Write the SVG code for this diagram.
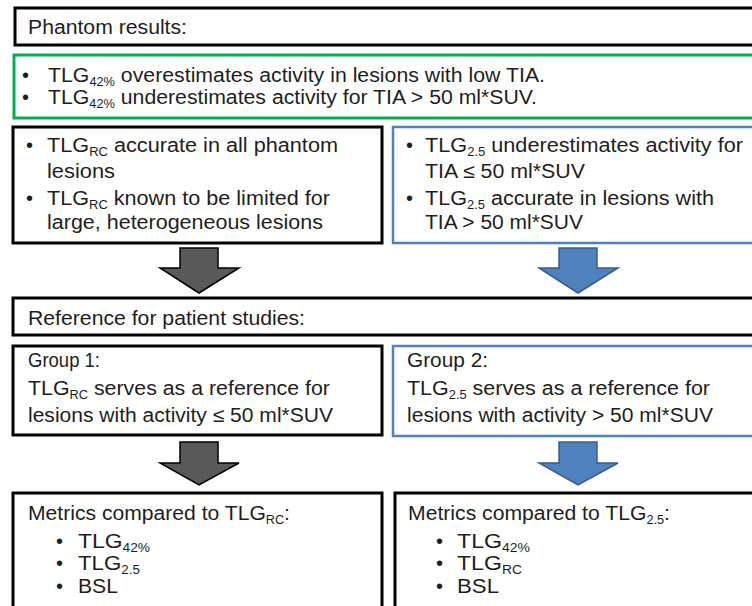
<svg xmlns="http://www.w3.org/2000/svg" width="752" height="606" viewBox="0 0 752 606">
<style>
text{font-family:"Liberation Sans",Arial,sans-serif;font-size:20px;fill:#1e1e1e}
.sub{font-size:12px}
.bk{fill:#fff;stroke:#000;stroke-width:3}
.gr{fill:#fff;stroke:#00B050;stroke-width:3}
.bl{fill:#fff;stroke:#4F81BD;stroke-width:2.5}
.ag{fill:#595959;stroke:#000;stroke-width:1.5;stroke-linejoin:miter}
.ab{fill:#4F81BD;stroke:#385D8A;stroke-width:1.5;stroke-linejoin:miter}
</style>
<rect width="752" height="606" fill="#fff"/>
<g id="phantom-title">
<rect class="bk" x="15" y="8" width="760" height="37"/>
<text x="28" y="34" textLength="159" lengthAdjust="spacingAndGlyphs">Phantom results:</text>
</g>
<g id="phantom-42">
<rect class="gr" x="14" y="55" width="760" height="63"/>
<text x="22" y="82">•</text>
<text x="48" y="82" textLength="497" lengthAdjust="spacingAndGlyphs">TLG<tspan class="sub" dy="4">42%</tspan><tspan dy="-4"> overestimates activity in lesions with low TIA.</tspan></text>
<text x="22" y="104">•</text>
<text x="48" y="104" textLength="489" lengthAdjust="spacingAndGlyphs">TLG<tspan class="sub" dy="4">42%</tspan><tspan dy="-4"> underestimates activity for TIA &gt; 50 ml*SUV.</tspan></text>
</g>
<g id="phantom-rc">
<rect class="bk" x="13" y="127" width="369" height="116"/>
<text x="26" y="152">•</text>
<text x="47" y="152" textLength="291" lengthAdjust="spacingAndGlyphs">TLG<tspan class="sub" dy="4">RC</tspan><tspan dy="-4"> accurate in all phantom</tspan></text>
<text x="47" y="178" textLength="68" lengthAdjust="spacingAndGlyphs">lesions</text>
<text x="26" y="205">•</text>
<text x="47" y="205" textLength="283" lengthAdjust="spacingAndGlyphs">TLG<tspan class="sub" dy="4">RC</tspan><tspan dy="-4"> known to be limited for</tspan></text>
<text x="47" y="229" textLength="276" lengthAdjust="spacingAndGlyphs">large, heterogeneous lesions</text>
</g>
<g id="phantom-25">
<rect class="bl" x="393" y="127" width="380" height="116"/>
<text x="406" y="152">•</text>
<text x="425" y="152" textLength="318" lengthAdjust="spacingAndGlyphs">TLG<tspan class="sub" dy="4">2.5</tspan><tspan dy="-4"> underestimates activity for</tspan></text>
<text x="425" y="178" textLength="160" lengthAdjust="spacingAndGlyphs">TIA ≤ 50 ml*SUV</text>
<text x="406" y="205">•</text>
<text x="425" y="205" textLength="289" lengthAdjust="spacingAndGlyphs">TLG<tspan class="sub" dy="4">2.5</tspan><tspan dy="-4"> accurate in lesions with</tspan></text>
<text x="425" y="229" textLength="158" lengthAdjust="spacingAndGlyphs">TIA &gt; 50 ml*SUV</text>
</g>
<g id="reference-title">
<rect class="bk" x="13" y="298" width="760" height="37"/>
<text x="28" y="325" textLength="277" lengthAdjust="spacingAndGlyphs">Reference for patient studies:</text>
</g>
<g id="group-1">
<rect class="bk" x="13" y="346" width="369" height="89"/>
<text x="28" y="367" textLength="72" lengthAdjust="spacingAndGlyphs">Group 1:</text>
<text x="28" y="395" textLength="302" lengthAdjust="spacingAndGlyphs">TLG<tspan class="sub" dy="4">RC</tspan><tspan dy="-4"> serves as a reference for</tspan></text>
<text x="28" y="422" textLength="305" lengthAdjust="spacingAndGlyphs">lesions with activity ≤ 50 ml*SUV</text>
</g>
<g id="group-2">
<rect class="bl" x="393" y="346" width="380" height="90"/>
<text x="407" y="367" textLength="81" lengthAdjust="spacingAndGlyphs">Group 2:</text>
<text x="407" y="395" textLength="303" lengthAdjust="spacingAndGlyphs">TLG<tspan class="sub" dy="4">2.5</tspan><tspan dy="-4"> serves as a reference for</tspan></text>
<text x="407" y="422" textLength="306" lengthAdjust="spacingAndGlyphs">lesions with activity &gt; 50 ml*SUV</text>
</g>
<g id="metrics-rc">
<rect class="bk" x="13" y="493" width="369" height="130"/>
<text x="28" y="520" textLength="262" lengthAdjust="spacingAndGlyphs">Metrics compared to TLG<tspan class="sub" dy="4">RC</tspan><tspan dy="-4">:</tspan></text>
<text x="56" y="548">•</text>
<text x="78" y="548" textLength="72" lengthAdjust="spacingAndGlyphs">TLG<tspan class="sub" dy="4">42%</tspan></text>
<text x="56" y="570">•</text>
<text x="78" y="570" textLength="62" lengthAdjust="spacingAndGlyphs">TLG<tspan class="sub" dy="4">2.5</tspan></text>
<text x="56" y="593">•</text>
<text x="78" y="593" textLength="40" lengthAdjust="spacingAndGlyphs">BSL</text>
</g>
<g id="metrics-25">
<rect class="bk" x="395" y="493" width="380" height="130"/>
<text x="408" y="520" textLength="262" lengthAdjust="spacingAndGlyphs">Metrics compared to TLG<tspan class="sub" dy="4">2.5</tspan><tspan dy="-4">:</tspan></text>
<text x="436" y="548">•</text>
<text x="457" y="548" textLength="73" lengthAdjust="spacingAndGlyphs">TLG<tspan class="sub" dy="4">42%</tspan></text>
<text x="436" y="570">•</text>
<text x="457" y="570" textLength="65" lengthAdjust="spacingAndGlyphs">TLG<tspan class="sub" dy="4">RC</tspan></text>
<text x="436" y="593">•</text>
<text x="457" y="593" textLength="42" lengthAdjust="spacingAndGlyphs">BSL</text>
</g>
<g id="connectors">
<polygon class="ag" points="180,248 218,248 218,268 239,268 199,293 160,268 180,268"/>
<polygon class="ab" points="559,248 597,248 597,268 618,268 578,293 539,268 559,268"/>
<polygon class="ag" points="180,442 218,442 218,463 239,463 199,485 160,463 180,463"/>
<polygon class="ab" points="559,442 597,442 597,463 618,463 578,485 539,463 559,463"/>
</g>
</svg>
